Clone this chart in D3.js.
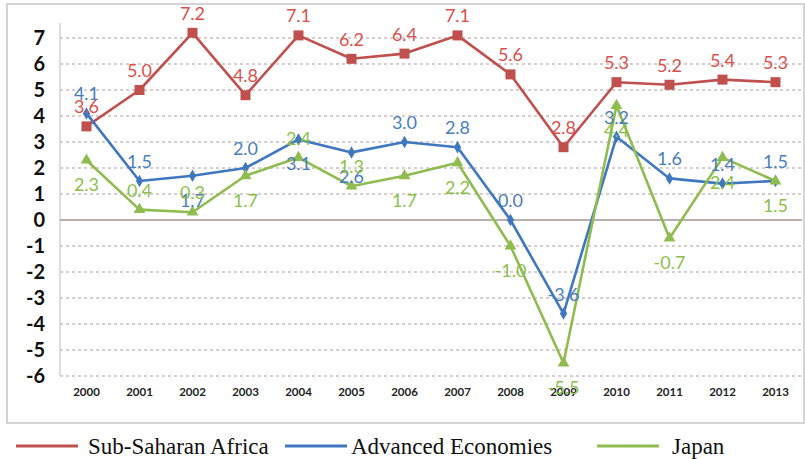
<!DOCTYPE html>
<html>
<head>
<meta charset="utf-8">
<script src="https://cdn.jsdelivr.net/npm/d3@7"></script>
<style>
  html, body { margin: 0; padding: 0; background: #fff; }
  svg { display: block; }
  .legend-text { font-family: "Liberation Serif", "Times New Roman", "DejaVu Serif", serif; }
</style>
</head>
<body>
<svg id="chart" width="805" height="459"></svg>
<script>
// Real GDP growth, % per year
const years = ["2000","2001","2002","2003","2004","2005","2006","2007","2008","2009","2010","2011","2012","2013"];
const subSaharanAfrica = [3.6, 5.0, 7.2, 4.8, 7.1, 6.2, 6.4, 7.1, 5.6, 2.8, 5.3, 5.2, 5.4, 5.3];
const advancedEconomies = [4.1, 1.5, 1.7, 2.0, 3.1, 2.6, 3.0, 2.8, 0.0, -3.6, 3.2, 1.6, 1.4, 1.5];
const japan = [2.3, 0.4, 0.3, 1.7, 2.4, 1.3, 1.7, 2.2, -1.0, -5.5, 4.4, -0.7, 2.4, 1.5];
const yTicks = [-6, -5, -4, -3, -2, -1, 0, 1, 2, 3, 4, 5, 6, 7];

// which side of its point each value label sits on (a = above, b = below)
const ssaLabelSide = ["a","a","a","a","a","a","a","a","a","a","a","a","a","a"];
const aeLabelSide  = ["a","a","b","a","b","b","a","a","a","a","a","a","a","a"];
const jpLabelSide  = ["b","a","a","b","a","a","b","b","b","b","b","b","b","b"];

const series = [
  { name: "Sub-Saharan Africa", values: subSaharanAfrica, sides: ssaLabelSide,
    line: "#c0504d", label: "#d9504c", marker: "square" },
  { name: "Advanced Economies", values: advancedEconomies, sides: aeLabelSide,
    line: "#3f78be", label: "#4a7ebb", marker: "diamond" },
  { name: "Japan", values: japan, sides: jpLabelSide,
    line: "#8fbc4f", label: "#8cbf4a", marker: "triangle" }
];

const svg = d3.select("#chart");

// outer chart frame
svg.append("rect")
  .attr("x", 7).attr("y", 4).attr("width", 797).attr("height", 419)
  .attr("fill", "#fff").attr("stroke", "#d4d4d4").attr("stroke-width", 2);

const plotLeft = 60, plotRight = 802;
const x = d3.scaleBand().domain(years).range([plotLeft, plotRight]);
const cx = d => x(d) + x.bandwidth() / 2;
const y = d3.scaleLinear().domain([-6, 7]).range([376, 38]);

// dashed gridlines
svg.append("g")
  .selectAll("line")
  .data(yTicks.filter(t => t !== 0))
  .join("line")
  .attr("x1", plotLeft).attr("x2", plotRight)
  .attr("y1", d => y(d)).attr("y2", d => y(d))
  .attr("stroke", "#cdbcbc").attr("stroke-width", 1.3)
  .attr("stroke-dasharray", "3,3");

// value axis line
svg.append("line")
  .attr("x1", plotLeft).attr("x2", plotLeft)
  .attr("y1", 23).attr("y2", y(-6))
  .attr("stroke", "#c8c8c8").attr("stroke-width", 1.2);

// zero baseline
svg.append("line")
  .attr("x1", plotLeft).attr("x2", plotRight)
  .attr("y1", y(0)).attr("y2", y(0))
  .attr("stroke", "#a39595").attr("stroke-width", 1.5);

// y tick labels (plain hyphen for negatives)
const yAxis = d3.axisLeft(y).tickValues(yTicks).tickSize(0).tickPadding(0).tickFormat(d => String(d));
const gy = svg.append("g").attr("transform", "translate(45,0)").call(yAxis);
gy.select(".domain").remove();
gy.selectAll("text")
  .attr("font-family", "Lato, 'Open Sans', sans-serif")
  .attr("font-weight", "bold").attr("font-size", 20).attr("fill", "#111");

// x tick labels
const xAxis = d3.axisBottom(x).tickSize(0).tickPadding(0);
const gx = svg.append("g").attr("transform", "translate(0,388)").call(xAxis);
gx.select(".domain").remove();
gx.selectAll("text")
  .attr("font-family", "Lato, 'Open Sans', sans-serif")
  .attr("font-weight", "bold").attr("font-size", 11.5).attr("fill", "#222");

const line = d3.line().x((d, i) => cx(years[i])).y(d => y(d));

const symbolFor = {
  square: d3.symbol().type(d3.symbolSquare).size(100),
  diamond: d3.symbol().type(d3.symbolDiamond).size(45),
  triangle: d3.symbol().type(d3.symbolTriangle).size(60)
};

series.forEach(s => {
  const g = svg.append("g");
  g.append("path")
    .datum(s.values)
    .attr("d", line)
    .attr("fill", "none")
    .attr("stroke", s.line).attr("stroke-width", 2.6)
    .attr("stroke-linejoin", "round");
  g.selectAll("path.mk")
    .data(s.values)
    .join("path")
    .attr("class", "mk")
    .attr("d", symbolFor[s.marker])
    .attr("transform", (d, i) => `translate(${cx(years[i])},${y(d)})`)
    .attr("fill", s.line);
});

// value labels drawn on top of all lines
series.forEach(s => {
  svg.append("g")
    .selectAll("text")
    .data(s.values)
    .join("text")
    .attr("x", (d, i) => cx(years[i]))
    .attr("y", (d, i) => y(d) + (s.sides[i] === "a" ? -13 : 31))
    .attr("text-anchor", "middle")
    .attr("font-family", "Lato, 'Open Sans', sans-serif")
    .attr("font-size", 18)
    .attr("fill", s.label)
    .text(d => d3.format(".1f")(d).replace("\u2212", "-"));
});

// legend
const legendX = [16, 285, 597];
const legendTextX = [72, 66, 75];
const legend = svg.append("g").selectAll("g")
  .data(series)
  .join("g")
  .attr("transform", (d, i) => `translate(${legendX[i]},446)`);
legend.append("line")
  .attr("x1", 0).attr("x2", 62).attr("y1", 0).attr("y2", 0)
  .attr("stroke", d => d.line).attr("stroke-width", 3);
legend.append("text")
  .attr("class", "legend-text")
  .attr("x", (d, i) => legendTextX[i])
  .attr("y", 8)
  .attr("font-size", 23)
  .attr("fill", "#111")
  .text(d => d.name);
</script>
</body>
</html>
